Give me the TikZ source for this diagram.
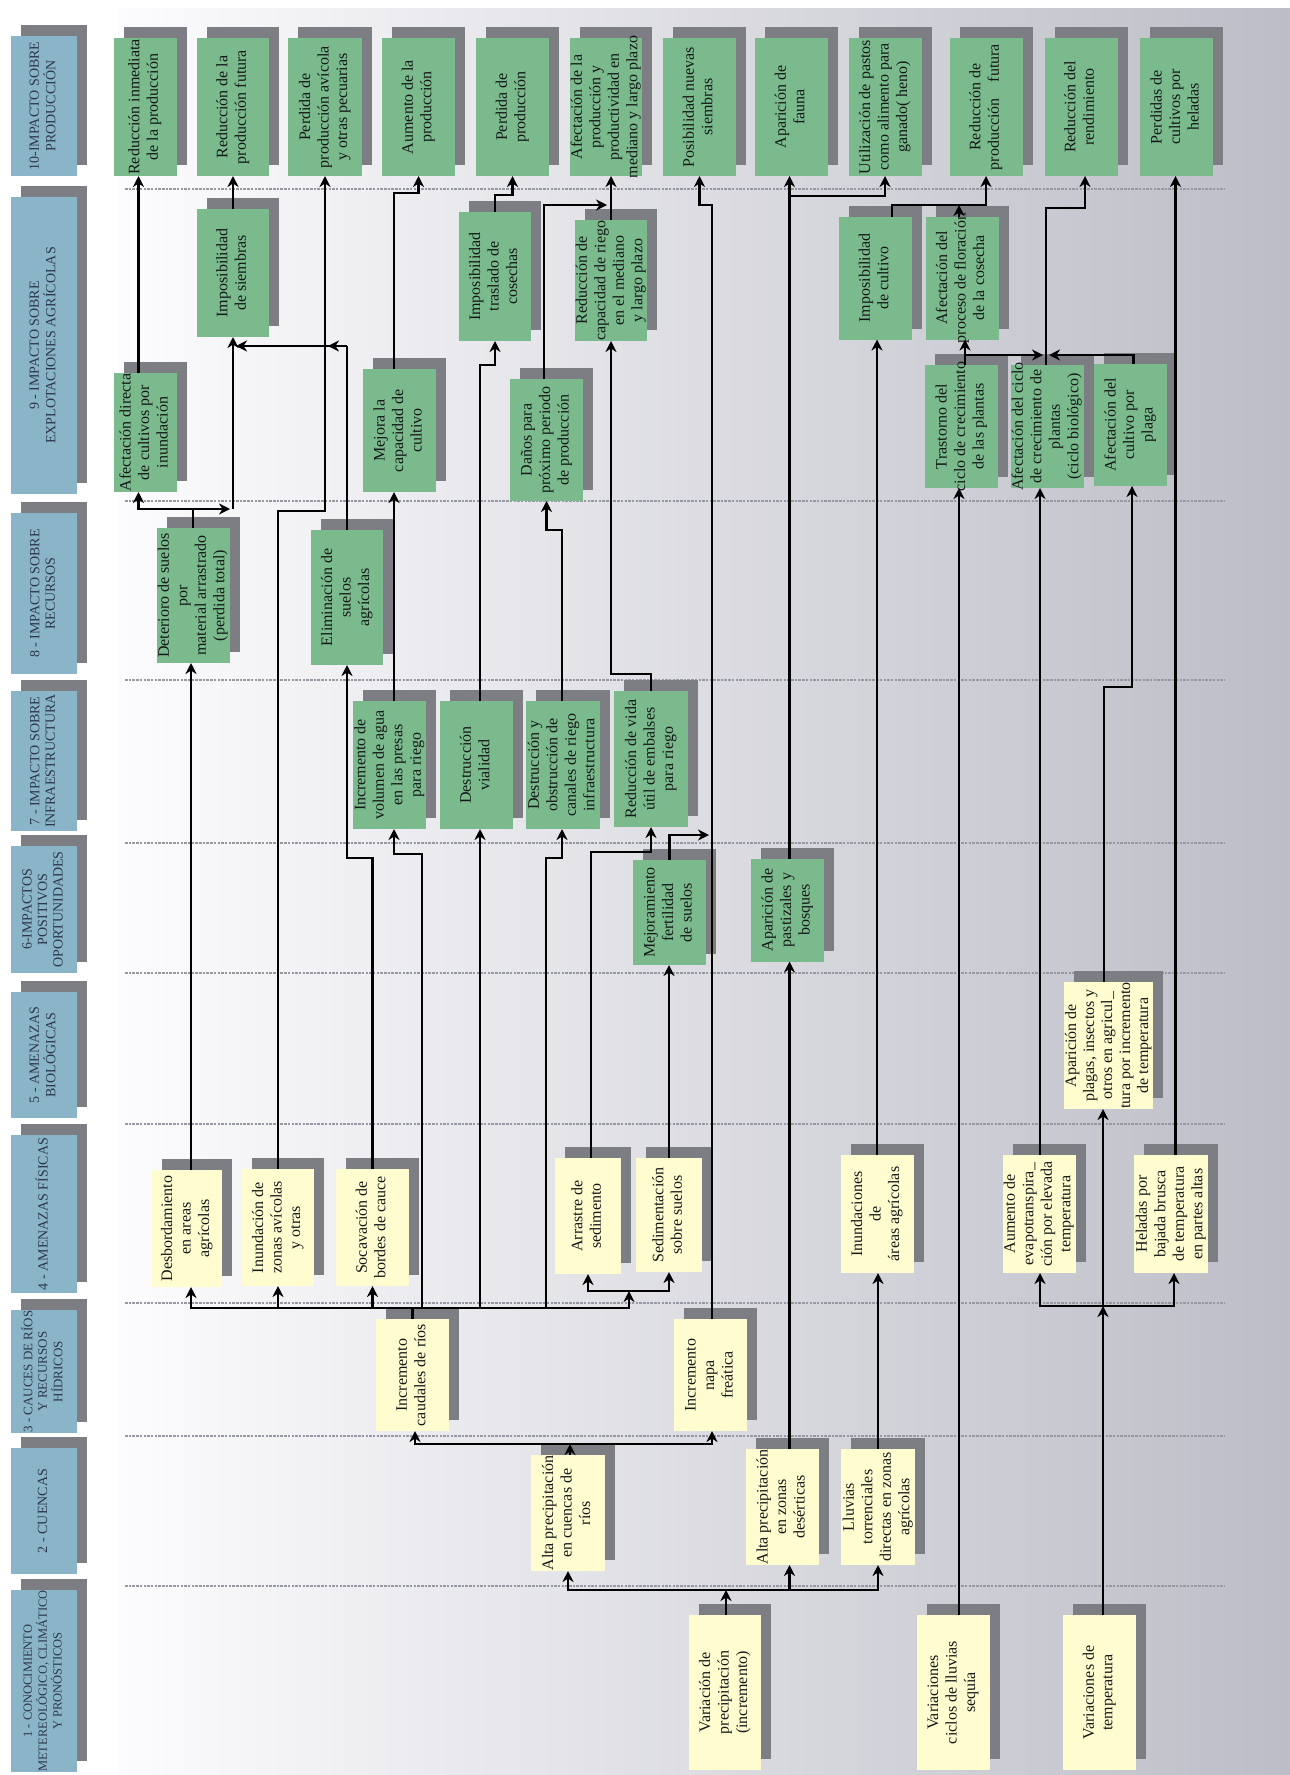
\documentclass[tikz,border=0pt]{standalone}
\usepackage{fontspec}
\setmainfont{Liberation Serif}
\usepackage{graphicx}
\usetikzlibrary{arrows.meta,shadows}
\definecolor{grn}{RGB}{122,186,140}
\definecolor{ylw}{RGB}{255,253,208}
\definecolor{shd}{RGB}{125,126,132}
\definecolor{hdr}{RGB}{138,180,200}
\definecolor{htxt}{RGB}{45,55,75}
\definecolor{txt}{RGB}{20,24,24}
\definecolor{bgL}{RGB}{252,252,254}
\definecolor{bgR}{RGB}{188,189,198}
\definecolor{sepc}{RGB}{150,152,162}
\newsavebox{\rtbox}
\newcommand{\rtx}[1]{\sbox{\rtbox}{\rotatebox{90}{\begin{tabular}{@{}c@{}}#1\end{tabular}}}\makebox[0pt]{\raisebox{-.5\ht\rtbox}[0pt][0pt]{\usebox{\rtbox}}}}
\begin{document}
\begin{tikzpicture}[x=1pt,y=-1pt,
  box/.style={inner sep=0pt,outer sep=0pt,drop shadow={shadow xshift=10pt,shadow yshift=11pt,fill=shd,opacity=1},text=txt,font=\fontsize{16}{18.5}\selectfont},
  gbox/.style={box,fill=grn},
  ybox/.style={box,fill=ylw},
  hbox/.style={box,fill=hdr,text=htxt,font=\fontsize{14}{15.5}\selectfont},
  wh/.style 2 args={minimum width=#1pt,minimum height=#2pt},
  cl/.style={line width=2.4pt,draw=black},
  cn/.style={cl,-{Stealth[length=11pt,width=11pt,inset=3.5pt]}},
  sepl/.style={draw=sepc,line width=1.3pt,dash pattern=on 2.5pt off 1.2pt}]
\useasboundingbox (0,0) rectangle (1290,1775);
\fill[white] (0,0) rectangle (1290,1775);
\shade[left color=bgL,right color=bgR] (118,8) rectangle (1290,1775);
% separators
\foreach \yy in {189,501,680,843,973,1124,1303,1436,1586}
  \draw[sepl] (125,\yy) -- (1225,\yy);
% headers
\node[hbox,wh={66}{140}] (h10) at (44,106) {\rtx{10-IMPACTO SOBRE\\PRODUCCIÓN}};
\node[hbox,wh={66}{297}] (h9) at (44,345.5) {\rtx{9 - IMPACTO SOBRE\\EXPLOTACIONES AGRÍCOLAS}};
\node[hbox,wh={66}{161}] (h8) at (44,593.5) {\rtx{8 - IMPACTO SOBRE\\RECURSOS}};
\node[hbox,wh={66}{140}] (h7) at (44,761) {\rtx{7 - IMPACTO SOBRE\\INFRAESTRUCTURA}};
\node[hbox,wh={66}{127}] (h6) at (44,909.5) {\rtx{6-IMPACTOS\\POSITIVOS\\OPORTUNIDADES}};
\node[hbox,wh={66}{126}] (h5) at (44,1055) {\rtx{5 - AMENAZAS\\BIOLÓGICAS}};
\node[hbox,wh={66}{158}] (h4) at (44,1214) {\rtx{4 - AMENAZAS FÍSICAS}};
\node[hbox,wh={66}{123},font=\fontsize{13}{14.5}\selectfont] (h3) at (44,1371.5) {\rtx{3 - CAUCES DE RÍOS\\Y RECURSOS\\HÍDRICOS}};
\node[hbox,wh={66}{126}] (h2) at (44,1511) {\rtx{2 - CUENCAS}};
\node[hbox,wh={66}{182},font=\fontsize{12.5}{14}\selectfont] (h1) at (44,1681) {\rtx{1 - CONOCIMIENTO\\METEREOLÓGICO, CLIMÁTICO\\Y PRONÓSTICOS}};
% row 10
\node[gbox,wh={63}{138}] (t1) at (145,107) {\rtx{Reducción inmediata\\de la producción}};
\node[gbox,wh={72}{138}] (t2) at (233,107) {\rtx{Reducción de la\\producción futura}};
\node[gbox,wh={74}{138}] (t3) at (325,107) {\rtx{Perdida de\\producción avícola\\y otras pecuarias}};
\node[gbox,wh={73}{138}] (t4) at (418.5,107) {\rtx{Aumento de la\\producción}};
\node[gbox,wh={73}{138}] (t5) at (512.5,107) {\rtx{Perdida de\\producción}};
\node[gbox,wh={72}{138}] (t6) at (606,107) {\rtx{Afectación de la\\producción y\\productividad en\\mediano y largo plazo}};
\node[gbox,wh={73}{138}] (t7) at (699.5,107) {\rtx{Posibilidad nuevas\\siembras}};
\node[gbox,wh={73}{138}] (t8) at (791.5,107) {\rtx{Aparición de\\fauna}};
\node[gbox,wh={73}{138}] (t9) at (885,107) {\rtx{Utilización de pastos\\como alimento para\\ganado( heno)}};
\node[gbox,wh={73}{138}] (t10) at (986,107) {\rtx{Reducción de\\producción\hspace{1em}futura}};
\node[gbox,wh={73}{138}] (t11) at (1081,107) {\rtx{Reducción del\\rendimiento}};
\node[gbox,wh={73}{138}] (t12) at (1176.5,107) {\rtx{Perdidas de\\cultivos por\\heladas}};
% row 9
\node[gbox,wh={63}{119}] (afd) at (145.5,432.5) {\rtx{Afectación directa\\de cultivos por\\inundación}};
\node[gbox,wh={72}{128}] (imps) at (233,273) {\rtx{Imposibilidad\\de siembras}};
\node[gbox,wh={73}{123}] (mej) at (399.5,430.5) {\rtx{Mejora la\\capacidad de\\cultivo}};
\node[gbox,wh={72}{129}] (impt) at (495,276.5) {\rtx{Imposibilidad\\traslado de\\cosechas}};
\node[gbox,wh={73}{122}] (dan) at (546.5,440) {\rtx{Daños para\\próximo periodo\\de producción}};
\node[gbox,wh={72}{121}] (redc) at (611,280.5) {\rtx{Reducción de\\capacidad de riego\\en el mediano\\y largo plazo}};
\node[gbox,wh={73}{123}] (impc) at (875.5,278) {\rtx{Imposibilidad\\de cultivo}};
\node[gbox,wh={73}{123}] (flo) at (962,278) {\rtx{Afectación del\\proceso de floración\\de la cosecha}};
\node[gbox,wh={73}{123}] (tras) at (961.5,426.5) {\rtx{Trastorno del\\ciclo de crecimiento\\de las plantas}};
\node[gbox,wh={73}{123}] (cic) at (1047,426.5) {\rtx{Afectación del ciclo\\de crecimiento de\\plantas\\(ciclo biológico)}};
\node[gbox,wh={73}{122}] (pla) at (1130.5,425) {\rtx{Afectación del\\cultivo por\\plaga}};
% row 8
\node[gbox,wh={73}{135}] (det) at (193,595.5) {\rtx{Deterioro de suelos\\por\\material arrastrado\\(perdida total)}};
\node[gbox,wh={72}{135}] (eli) at (347,597.5) {\rtx{Eliminación de\\suelos\\agrícolas}};
% row 7
\node[gbox,wh={73}{128}] (vol) at (389.5,765) {\rtx{Incremento de\\volumen de agua\\en las presas\\para riego}};
\node[gbox,wh={73}{128}] (via) at (476.5,765) {\rtx{Destrucción\\vialidad}};
\node[gbox,wh={74}{128}] (obs) at (563,765) {\rtx{Destrucción y\\obstrucción de\\canales de riego\\infraestructura}};
\node[gbox,wh={74}{136}] (vid) at (651,759) {\rtx{Reducción de vida\\útil de embalses\\para riego}};
% row 6
\node[gbox,wh={73}{105}] (mejf) at (669.5,912.5) {\rtx{Mejoramiento\\fertilidad\\de suelos}};
\node[gbox,wh={73}{103}] (pas) at (787.5,910) {\rtx{Aparición de\\pastizales y\\bosques}};
% row 5
\node[ybox,wh={89}{127},font=\fontsize{16}{18}\selectfont] (plg) at (1108.5,1045.5) {\rtx{Aparición de\\plagas, insectos y\\otros en agricul\_\\tura por incremento\\de temperatura}};
% row 4
\node[ybox,wh={70}{117}] (des) at (187,1228.5) {\rtx{Desbordamiento\\en areas\\agrícolas}};
\node[ybox,wh={72}{117}] (inz) at (278,1227.5) {\rtx{Inundación de\\zonas avícolas\\y otras}};
\node[ybox,wh={73}{117}] (soc) at (372.5,1227.5) {\rtx{Socavación de\\bordes de cauce}};
\node[ybox,wh={66}{116}] (ars) at (588,1216) {\rtx{Arrastre de\\sedimento}};
\node[ybox,wh={66}{114}] (sed) at (669,1215) {\rtx{Sedimentación\\sobre suelos}};
\node[ybox,wh={73}{118}] (ina) at (877,1214) {\rtx{Inundaciones\\de\\áreas agrícolas}};
\node[ybox,wh={73}{118}] (aum) at (1039,1214) {\rtx{Aumento de\\evapotranspira\_\\ción por elevada\\temperatura}};
\node[ybox,wh={74}{118}] (hel) at (1171,1214) {\rtx{Heladas por\\bajada brusca\\de temperatura\\en partes altas}};
% row 3
\node[ybox,wh={73}{112}] (cau) at (412.5,1375) {\rtx{Incremento\\caudales de ríos}};
\node[ybox,wh={73}{112}] (nap) at (710.5,1375) {\rtx{Incremento\\napa\\freática}};
% row 2
\node[ybox,wh={74}{116}] (cue) at (568,1513) {\rtx{Alta precipitación\\en cuencas de\\ríos}};
\node[ybox,wh={73}{116}] (dsr) at (782.5,1507) {\rtx{Alta precipitación\\en zonas\\desérticas}};
\node[ybox,wh={74}{116}] (llu) at (878,1507) {\rtx{Lluvias\\torrenciales\\directas en zonas\\agrícolas}};
% row 1
\node[ybox,wh={72}{155}] (vpr) at (725,1692.5) {\rtx{Variación de\\precipitación\\(incremento)}};
\node[ybox,wh={73}{155}] (vcs) at (953,1692.5) {\rtx{Variaciones\\ciclos de lluvias\\sequía}};
\node[ybox,wh={73}{155}] (vte) at (1099.5,1692.5) {\rtx{Variaciones de\\temperatura}};
% junction coordinates
\coordinate (j1) at (193,509);
\coordinate (j1b) at (233,509);
\coordinate (j2) at (347,346);
\coordinate (j3) at (325,511);
\coordinate (j4) at (394,193);
\coordinate (j5) at (495,195);
\coordinate (j6) at (480,365);
\coordinate (j7) at (544,205);
\coordinate (j8) at (562,530);
\coordinate (j9) at (651,674);
\coordinate (j10) at (712,205);
\coordinate (j11) at (669.5,835);
\coordinate (j12) at (591,852);
\coordinate (j13) at (372.5,858);
\coordinate (j14) at (789.5,196);
\coordinate (j15) at (892,205);
\coordinate (j16) at (965,355);
\coordinate (j17) at (1046,355);
\coordinate (j18) at (1046,208);
\coordinate (j19) at (1104,687);
\coordinate (b1) at (412.5,1308);
\coordinate (k1) at (422,854);
\coordinate (k2) at (546,858);
\coordinate (k3) at (629,1291);
\coordinate (b2) at (570,1444);
\coordinate (b3) at (726,1590);
\coordinate (b4) at (1103,1306);
% row 9 -> row 10
\draw[cn] ([xshift=-7pt]afd.north) -- ([xshift=-7pt]afd.north |- t1.south);
\draw[cn] (imps.north) -- (imps.north |- t2.south);
\draw[cn] ([xshift=-5.5pt]mej.north) -- (j4) -| (t4.south);
\draw[cn] (impt.north) -- (j5) -| (t5.south);
\draw[cn] ([xshift=-2.5pt]dan.north) -- (j7) -- ([xshift=-4pt]redc.north |- j7);
\draw[cn] (redc.north) -- (redc.north |- t6.south);
\draw[cn] ([xshift=1.5pt]nap.north) -- (j10) -| (t7.south);
\draw[cn] ([xshift=2pt]pas.north) -- ([xshift=2pt]pas.north |- t8.south);
\draw[cn] (j14) -| (t9.south);
\draw[cn] ([xshift=16.5pt]impc.north) -- (j15) -| (t10.south);
\draw[cn] ([xshift=-3pt]flo.north) -- ([xshift=-3pt]flo.north |- j15);
\draw[cn] ([xshift=3.5pt]tras.north) -- ([xshift=3.5pt]tras.north |- flo.south);
\draw[cn] (j16) -- ([xshift=-3pt]j17);
\draw[cn] ([xshift=3pt]pla.north) |- ([xshift=3pt]j17);
\draw[cn] ([xshift=-1pt]cic.north) -- (j18) -| ([xshift=4pt]t11.south);
\draw[cn] ([xshift=4.5pt]hel.north) -- ([xshift=4.5pt]hel.north |- t12.south);
% row 8 -> row 9 / 10
\draw[cl] (det.north) -- (j1);
\draw[cn] (j1) -| ([xshift=-7pt]afd.south);
\draw[cn] (j1) -- ([xshift=-3pt]j1b);
\draw[cn] (j1b) -- (j1b |- imps.south);
\draw[cl] (eli.north) -- (j2);
\draw[cn] (j2) -- ([xshift=3pt]j3 |- j2);
\draw[cn] (j2) -- ([xshift=3pt]imps.south |- j2);
\draw[cn] (inz.north) |- (j3) -- (j3 |- t3.south);
% row 7 -> row 9
\draw[cn] ([xshift=4.5pt]vol.north) -- ([xshift=4.5pt]vol.north |- mej.south);
\draw[cn] ([xshift=3.5pt]via.north) -- (j6) -| (impt.south);
\draw[cn] ([xshift=-1pt]obs.north) -- (j8) -| (dan.south);
\draw[cn] (vid.north) -- (j9) -| (redc.south);
% row 6 / 4 -> upper
\draw[cn] (mejf.north) -- (j11) -- ([xshift=-3pt]j10 |- j11);
\draw[cn] ([xshift=3pt]ars.north) -- (j12) -| (vid.south);
\draw[cn] (sed.north) -- (sed.north |- mejf.south);
\draw[cn] (soc.north) -- (j13) -| (eli.south);
\draw[cn] ([xshift=4pt]des.north) -- ([xshift=4pt]des.north |- det.south);
% row 3 -> row 4 / 7
\draw[cl] (cau.north) -- (b1);
\draw[cn] (b1) -| ([xshift=4pt]des.south);
\draw[cn] (b1) -| (inz.south);
\draw[cn] (b1) -| (soc.south);
\draw[cn] (b1) -| (k1) -| ([xshift=4.5pt]vol.south);
\draw[cn] (b1) -| ([xshift=3.5pt]via.south);
\draw[cn] (b1) -| (k2) -| ([xshift=-1pt]obs.south);
\draw[cn] (b1) -| (k3);
\draw[cn] (k3) -| (ars.south);
\draw[cn] (k3) -| (sed.south);
% row 2 -> row 3
\draw[cn] ([xshift=2pt]cue.north) -- (b2);
\draw[cn] (b2) -| ([xshift=2.5pt]cau.south);
\draw[cn] (b2) -| ([xshift=1.5pt]nap.south);
% row 1 -> row 2
\draw[cn] ([xshift=1pt]vpr.north) -- (b3);
\draw[cn] (b3) -| (cue.south);
\draw[cn] (b3) -| ([xshift=7pt]dsr.south);
\draw[cn] (b3) -| (llu.south);
\draw[cn] ([xshift=7pt]dsr.north) -- ([xshift=7pt]dsr.north |- pas.south);
\draw[cn] (llu.north) -- (llu.north |- ina.south);
\draw[cn] (ina.north) -- (ina.north |- impc.south);
\draw[cn] ([xshift=6pt]vcs.north) -- ([xshift=6pt]vcs.north |- tras.south);
\draw[cn] ([xshift=3.5pt]vte.north) -- (b4);
\draw[cn] (b4) -| ([xshift=1pt]aum.south);
\draw[cn] (b4) -| ([xshift=3pt]hel.south);
\draw[cn] (b4) -- (b4 |- plg.south);
\draw[cn] ([xshift=-4.5pt]plg.north) -- (j19) -| ([xshift=1.5pt]pla.south);
\draw[cn] ([xshift=1pt]aum.north) -- ([xshift=1pt]aum.north |- cic.south);
\end{tikzpicture}
\end{document}
